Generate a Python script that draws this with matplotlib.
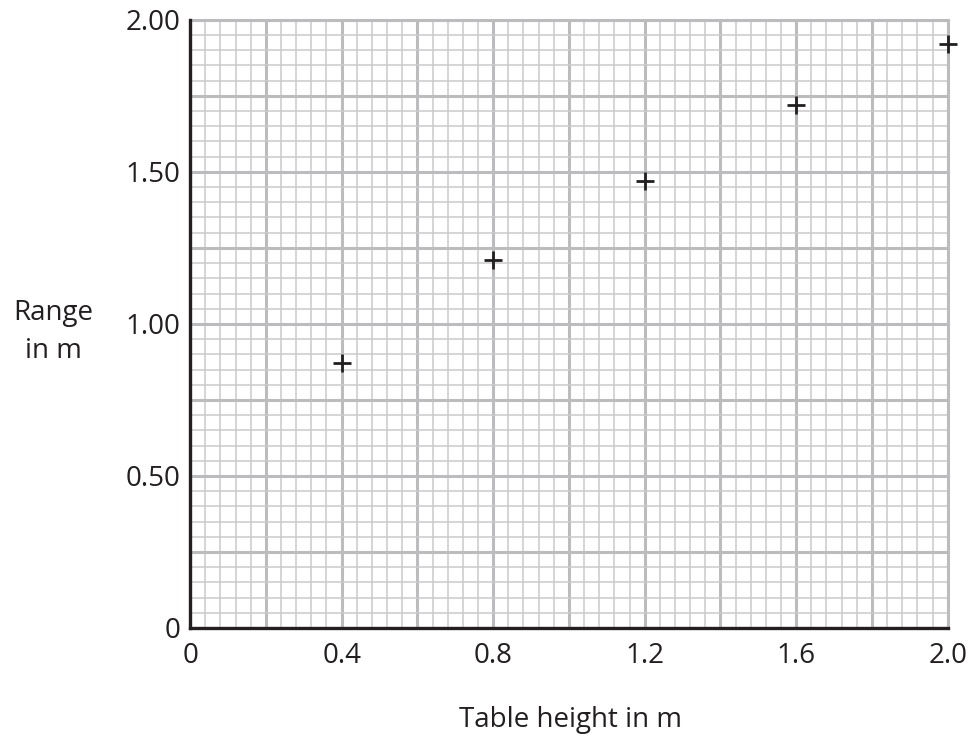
import matplotlib
matplotlib.use('Agg')
import matplotlib.pyplot as plt
import numpy as np

table_height = [0.4, 0.8, 1.2, 1.6, 2.0]
range_m = [0.87, 1.21, 1.47, 1.72, 1.92]

x_ticks = np.arange(0, 2.01, 0.2)
x_labels = ['0', '', '0.4', '', '0.8', '', '1.2', '', '1.6', '', '2.0']
y_ticks = np.arange(0, 2.01, 0.25)
y_labels = ['0', '', '0.50', '', '1.00', '', '1.50', '', '2.00']

plt.rcParams['font.family'] = ['Open Sans', 'DejaVu Sans']
fs = 20
txt = '#231f20'

fig = plt.figure(figsize=(9.7, 7.35), dpi=100)
ax = fig.add_axes([0.196, 0.1456, 0.781, 0.8274])

ax.set_xlim(0, 2.0)
ax.set_ylim(0, 2.0)
ax.set_xticks(x_ticks)
ax.set_xticklabels(x_labels, fontsize=fs, color=txt)
ax.set_yticks(y_ticks)
ax.set_yticklabels(y_labels, fontsize=fs, color=txt)
ax.set_xticks(np.arange(0, 2.001, 0.04), minor=True)
ax.set_yticks(np.arange(0, 2.001, 0.05), minor=True)
ax.tick_params(which='both', length=0)
ax.tick_params(axis='x', pad=10)
ax.tick_params(axis='y', pad=7)

ax.grid(True, which='minor', color='#cacacd', lw=1.1, zorder=0)
ax.grid(True, which='major', color='#bcbcbf', lw=2.2, zorder=0)
ax.set_axisbelow(True)

for s in ['top', 'right']:
    ax.spines[s].set_color('#bcbcbf')
    ax.spines[s].set_linewidth(2.2)
for s in ['left', 'bottom']:
    ax.spines[s].set_color(txt)
    ax.spines[s].set_linewidth(2.4)
    ax.spines[s].set_zorder(5)

ax.plot(table_height, range_m, linestyle='none', marker='+', markersize=13,
        mew=2.0, color=txt, zorder=6, clip_on=False)

# y label in two lines, centred left of the axis
fig.text(0.0546, 0.5646, 'Range', ha='center', va='baseline', fontsize=fs, color=txt)
fig.text(0.0546, 0.5129, 'in m', ha='center', va='baseline', fontsize=fs, color=txt)
fig.text(0.588, 0.011, 'Table height in m', ha='center', va='baseline', fontsize=fs,
         color=txt)

plt.savefig('out.png', dpi=100)
